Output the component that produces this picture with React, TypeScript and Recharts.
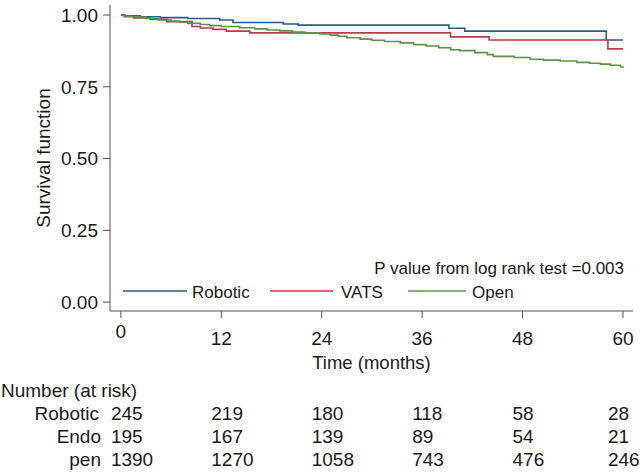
import React from "react";
import { LineChart, Line, XAxis, YAxis } from "recharts";

const xTicks = [0, 12, 24, 36, 48, 60];
const yTicks = [0, 0.25, 0.5, 0.75, 1];

const roboticT = [0, 0.5, 2.3, 4.7, 8, 11.8, 13.4, 19.4, 21.2, 39.2, 41.1, 58.0, 60];
const roboticS = [1.0, 0.997, 0.994, 0.991, 0.988, 0.983, 0.974, 0.969, 0.965, 0.954, 0.944, 0.913, 0.913];

const vatsT = [0, 0.4, 1.5, 3.5, 5.5, 8.5, 9.5, 11, 12.6, 15.4, 39.4, 44, 58.2, 60];
const vatsS = [1.0, 0.994, 0.99, 0.985, 0.977, 0.96, 0.955, 0.95, 0.944, 0.938, 0.924, 0.913, 0.882, 0.882];

const openT = [0, 0.5, 1.5, 3, 4.5, 6, 7, 8, 9.5, 10.6, 12, 14.2, 16, 17.5, 19, 20.5, 22, 23.8, 25, 26, 27, 28.6, 30, 31.5, 33.4, 35, 36.5, 38, 39.4, 40.5, 42.3, 43.8, 44.5, 47, 48.9, 50.5, 52.5, 54.5, 56, 57.3, 58.5, 59.7, 60];
const openS = [1.0, 0.996, 0.993, 0.988, 0.983, 0.979, 0.975, 0.971, 0.967, 0.963, 0.96, 0.956, 0.952, 0.948, 0.945, 0.941, 0.938, 0.934, 0.93, 0.926, 0.921, 0.916, 0.912, 0.908, 0.903, 0.897, 0.892, 0.886, 0.879, 0.876, 0.869, 0.862, 0.856, 0.852, 0.846, 0.843, 0.84, 0.835, 0.832, 0.829, 0.825, 0.82, 0.816];

const seriesNames = ["Robotic", "VATS", "Open"];
const riskLabels = ["Robotic", "Endo", "pen"];
const riskRobotic = [245, 219, 180, 118, 58, 28];
const riskEndo = [195, 167, 139, 89, 54, 21];
const riskOpen = [1390, 1270, 1058, 743, 476, 246];

const COLORS = ["#2b5a8c", "#c0394a", "#5a9444"];
const FONT = '"Liberation Sans", Arial, Helvetica, sans-serif';
const TXT = "#1a1a1a";
const AXIS = "#555555";

const toPts = (t: number[], s: number[]) => t.map((v, i) => ({ t: v, s: s[i] }));

const W = 640;
const H = 475;
const MARGIN = { top: 5, right: 7, left: 0, bottom: 104 };
const YW = 110;
const XH = 60;
const XDOM: [number, number] = [-1.3, 61.2];
const YDOM: [number, number] = [-0.031, 1.035];

// mirrors the chart's x scale for the annotation overlay
const plotLeft = MARGIN.left + YW;
const plotRight = W - MARGIN.right;
const xScale = (m: number) => plotLeft + ((m - XDOM[0]) / (XDOM[1] - XDOM[0])) * (plotRight - plotLeft);

const XTick = (props: any) => {
  const { x, y, payload } = props;
  const yy = payload.value === 0 ? y - 7 : y;
  return (
    <text x={x} y={yy} dy="0.71em" textAnchor="middle" fill={TXT} fontSize={19} fontFamily={FONT}>
      {payload.value}
    </text>
  );
};

export default function App() {
  const riskRows = [riskRobotic, riskEndo, riskOpen];
  const rowY = [413, 436, 459];
  const labelRight = [99, 101, 101];
  const legendItems = [
    { x1: 123, x2: 187, tx: 192 },
    { x1: 270, x2: 333, tx: 341 },
    { x1: 408, x2: 466, tx: 472 },
  ];
  return (
    <div style={{ position: "absolute", left: 0, top: 0, width: W, height: H, background: "#fff" }}>
      <LineChart width={W} height={H} margin={MARGIN}>
        <XAxis
          dataKey="t"
          type="number"
          domain={XDOM}
          allowDataOverflow
          ticks={xTicks}
          interval={0}
          height={XH}
          tickSize={7}
          tickMargin={14}
          stroke={AXIS}
          tick={<XTick />}
          label={{
            value: "Time (months)",
            position: "insideBottom",
            offset: 0,
            content: () => (
              <text x={(plotLeft + plotRight) / 2} y={362} textAnchor="middle" dominantBaseline="central" fill={TXT} fontSize={18.5} fontFamily={FONT}>
                Time (months)
              </text>
            ),
          }}
        />
        <YAxis
          type="number"
          domain={YDOM}
          allowDataOverflow
          ticks={yTicks}
          interval={0}
          width={YW}
          tickSize={7}
          tickMargin={5}
          stroke={AXIS}
          tickFormatter={(v: number) => v.toFixed(2)}
          tick={{ fill: TXT, fontSize: 19, fontFamily: FONT }}
          label={{
            value: "Survival function",
            content: () => (
              <text x={43} y={158} transform="rotate(-90 43 158)" textAnchor="middle" dominantBaseline="central" fill={TXT} fontSize={19} fontFamily={FONT}>
                Survival function
              </text>
            ),
          }}
        />
        <Line data={toPts(roboticT, roboticS)} dataKey="s" name={seriesNames[0]} type="stepAfter" stroke={COLORS[0]} strokeWidth={1.6} dot={false} isAnimationActive={false} />
        <Line data={toPts(vatsT, vatsS)} dataKey="s" name={seriesNames[1]} type="stepAfter" stroke={COLORS[1]} strokeWidth={1.6} dot={false} isAnimationActive={false} />
        <Line data={toPts(openT, openS)} dataKey="s" name={seriesNames[2]} type="stepAfter" stroke={COLORS[2]} strokeWidth={1.6} dot={false} isAnimationActive={false} />
      </LineChart>
      <svg width={W} height={H} style={{ position: "absolute", left: 0, top: 0, pointerEvents: "none" }}>
        <g fontFamily={FONT} fill={TXT}>
          <text x={624} y={268} fontSize={17} textAnchor="end" dominantBaseline="central">P value from log rank test =0.003</text>
          {legendItems.map((it, i) => (
            <g key={i}>
              <line x1={it.x1} x2={it.x2} y1={291} y2={291} stroke={COLORS[i]} strokeWidth={1.6} />
              <text x={it.tx} y={292} fontSize={17} dominantBaseline="central">{seriesNames[i]}</text>
            </g>
          ))}
          <text x={1} y={390} fontSize={19} dominantBaseline="central">Number (at risk)</text>
          {riskRows.map((row, r) => (
            <g key={r}>
              <text x={labelRight[r]} y={rowY[r]} fontSize={19} textAnchor="end" dominantBaseline="central">{riskLabels[r]}</text>
              {row.map((n, c) => (
                <text key={c} x={xScale(xTicks[c]) - (c === xTicks.length - 1 ? 15 : 10)} y={rowY[r]} fontSize={19} dominantBaseline="central">
                  {n}
                </text>
              ))}
            </g>
          ))}
        </g>
      </svg>
    </div>
  );
}
